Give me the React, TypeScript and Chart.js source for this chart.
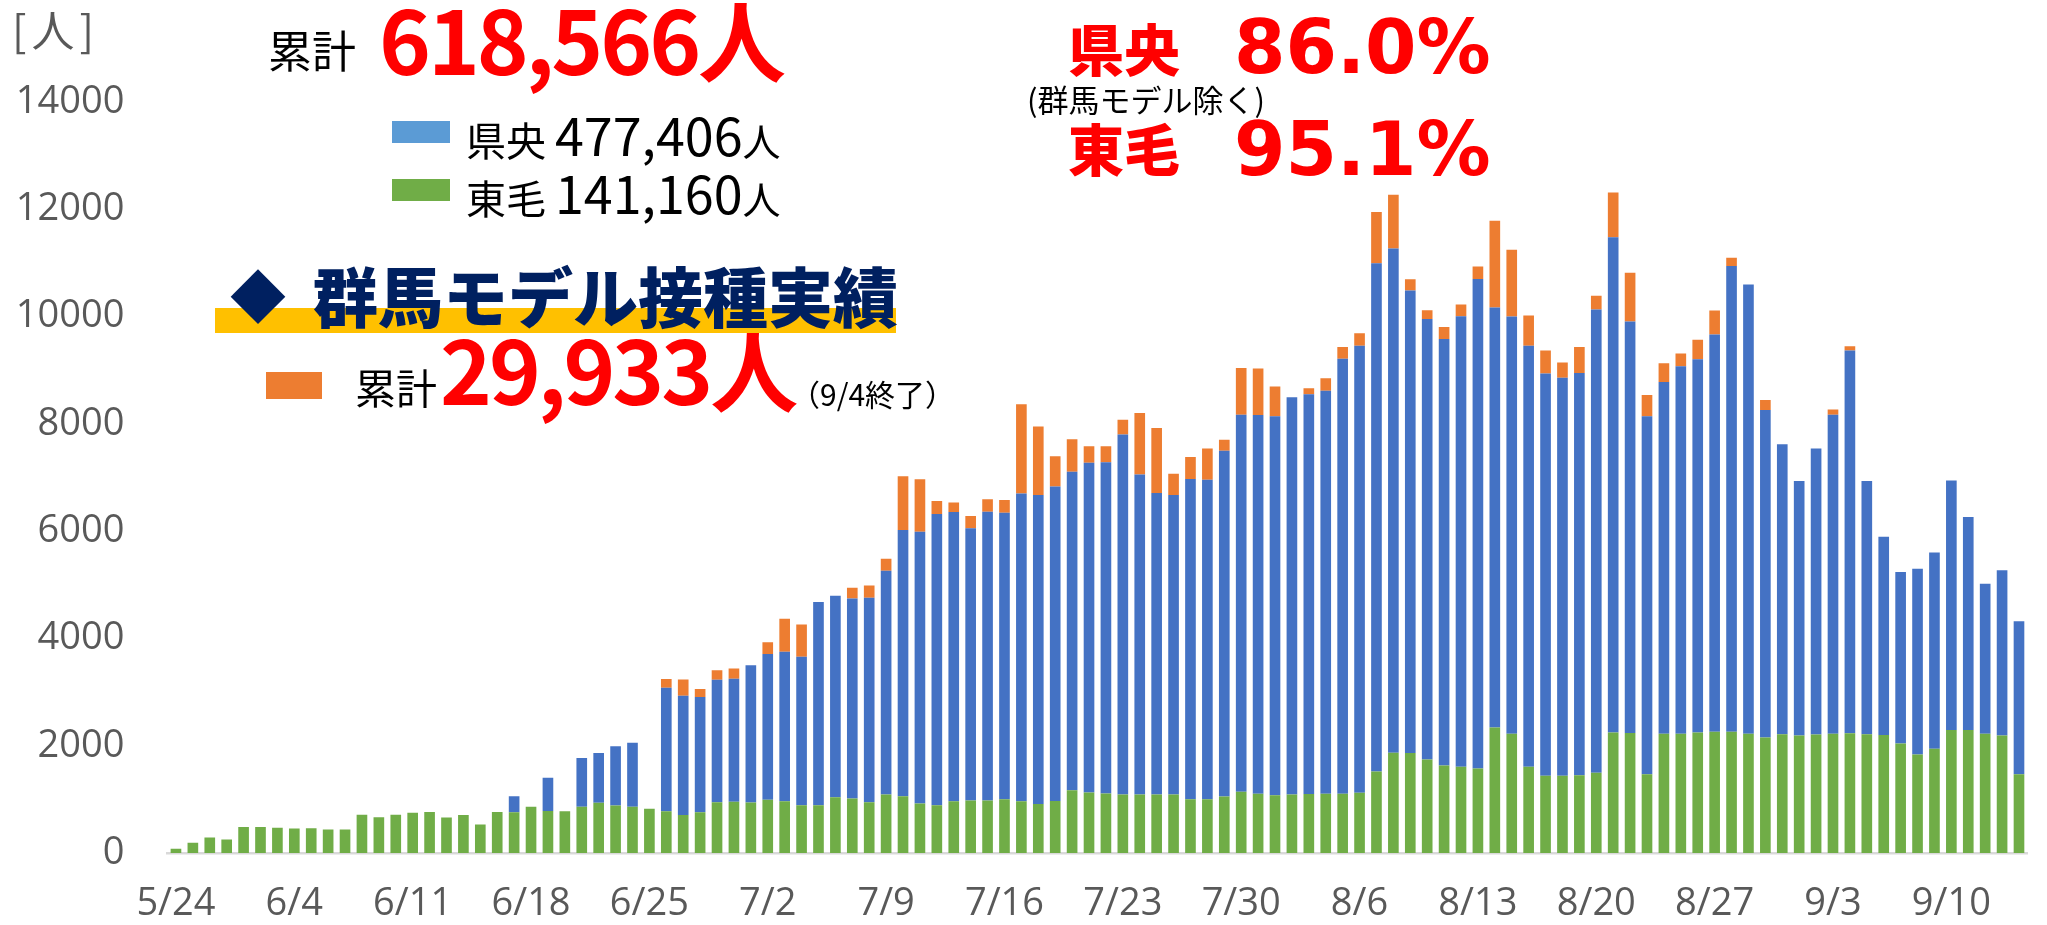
import React, { useEffect, useRef } from "react";
import { Chart, registerables } from "chart.js";

Chart.register(...registerables);

// Category labels (one per bar)
const dates: string[] = [
  "5/24", "5/29", "5/30", "5/31",
  "6/1", "6/2", "6/3", "6/4", "6/5", "6/6", "6/7", "6/8", "6/9", "6/10",
  "6/11", "6/12", "6/13", "6/14", "6/15", "6/16", "6/17", "6/18", "6/19", "6/20",
  "6/21", "6/22", "6/23", "6/24", "6/25", "6/26", "6/27", "6/28", "6/29", "6/30",
  "7/1", "7/2", "7/3", "7/4", "7/5", "7/6", "7/7", "7/8", "7/9", "7/10",
  "7/11", "7/12", "7/13", "7/14", "7/15", "7/16", "7/17", "7/18", "7/19", "7/20",
  "7/21", "7/22", "7/23", "7/24", "7/25", "7/26", "7/27", "7/28", "7/29", "7/30", "7/31",
  "8/1", "8/2", "8/3", "8/4", "8/5", "8/6", "8/7", "8/8", "8/9", "8/10",
  "8/11", "8/12", "8/13", "8/14", "8/15", "8/16", "8/17", "8/18", "8/19", "8/20",
  "8/21", "8/22", "8/23", "8/24", "8/25", "8/26", "8/27", "8/28", "8/29", "8/30", "8/31",
  "9/1", "9/2", "9/3", "9/4", "9/5", "9/6", "9/7", "9/8", "9/9", "9/10",
  "9/11", "9/12", "9/13", "9/14",
];

// 東毛 (green, bottom of stack)
const toumou: number[] = [
  80, 190, 290, 250, 485, 485, 470, 455, 460, 440,
  440, 715, 665, 715, 750, 765, 660, 710, 530, 765,
  760, 860, 785, 780, 860, 935, 885, 860, 825, 780,
  710, 760, 945, 955, 940, 995, 965, 890, 890, 1040,
  1015, 945, 1090, 1060, 925, 890, 965, 980, 980, 1000,
  965, 915, 970, 1170, 1130, 1110, 1090, 1090, 1090, 1090,
  1000, 1000, 1055, 1140, 1105, 1075, 1090, 1100, 1105, 1105,
  1125, 1520, 1870, 1865, 1745, 1630, 1610, 1575, 2340, 2225,
  1610, 1440, 1440, 1450, 1495, 2245, 2235, 1470, 2225, 2225,
  2245, 2262, 2262, 2225, 2155, 2215, 2190, 2210, 2225, 2232,
  2212, 2200, 2040, 1835, 1945, 2295, 2295, 2225, 2190, 1468,
];

// 県央 (blue, middle)
const kenou: number[] = [
  0, 0, 0, 0, 0, 0, 0, 0, 0, 0,
  0, 0, 0, 0, 0, 0, 0, 0, 0, 0,
  300, 0, 620, 0, 910, 930, 1105, 1195, 0, 2300,
  2220, 2150, 2285, 2295, 2560, 2715, 2785, 2770, 3790, 3755,
  3730, 3815, 4170, 4960, 5065, 5430, 5390, 5075, 5380, 5345,
  5735, 5760, 5860, 5935, 6145, 6175, 6710, 5965, 5620, 5585,
  5970, 5960, 6445, 7030, 7060, 7065, 7405, 7450, 7510, 8110,
  8330, 9475, 9400, 8620, 8210, 7950, 8395, 9125, 7830, 7775,
  7845, 7500, 7420, 7500, 8635, 9235, 7675, 6670, 6555, 6850,
  6960, 7405, 8680, 8375, 6105, 5405, 4745, 5330, 5945, 7135,
  4725, 3695, 3200, 3465, 3655, 4650, 3970, 2795, 3080, 2850,
];

// 群馬モデル (orange, top)
const gunmaModel: number[] = [
  0, 0, 0, 0, 0, 0, 0, 0, 0, 0,
  0, 0, 0, 0, 0, 0, 0, 0, 0, 0,
  0, 0, 0, 0, 0, 0, 0, 0, 0, 165,
  305, 145, 179, 190, 0, 217, 615, 600, 0, 0,
  202, 226, 226, 1002, 978, 242, 178, 226, 235, 235,
  1665, 1277, 566, 606, 307, 299, 275, 1148, 1212, 396,
  412, 582, 202, 873, 865, 557, 0, 113, 235, 218,
  235, 954, 1002, 210, 165, 227, 218, 234, 1617, 1244,
  566, 428, 283, 485, 259, 832, 905, 396, 348, 235,
  363, 445, 154, 0, 186, 0, 0, 0, 97, 81,
  0, 0, 0, 0, 0, 0, 0, 0, 0, 0,
];

const yMax = 14000;
const yStep = 2000;
const xLabelEvery = 7;

const W = 2047;
const H = 925;
const CJK = '"Noto Sans CJK JP", "Noto Sans", sans-serif';
const TICK_FONT = '"Open Sans", "Noto Sans", sans-serif';

type TProps = {
  x: number;
  cy: number;
  size: number;
  k?: number;
  color?: string;
  weight?: number | string;
  family?: string;
  children: React.ReactNode;
  spacing?: number;
};

function T({ x, cy, size, k = 0.56, color = "#000", weight = 400, family = CJK, children, spacing = 0 }: TProps) {
  return (
    <div
      style={{
        position: "absolute",
        left: x,
        top: cy - k * size,
        fontSize: size,
        lineHeight: 1,
        color,
        fontWeight: weight as any,
        fontFamily: family,
        whiteSpace: "nowrap",
        letterSpacing: spacing,
      }}
    >
      {children}
    </div>
  );
}

function Box({ x, y, w, h, color }: { x: number; y: number; w: number; h: number; color: string }) {
  return <div style={{ position: "absolute", left: x, top: y, width: w, height: h, background: color }} />;
}

export default function App() {
  const ref = useRef<HTMLCanvasElement | null>(null);

  useEffect(() => {
    const canvas = ref.current;
    if (!canvas) return;
    const chart = new Chart(canvas, {
      type: "bar",
      data: {
        labels: dates,
        datasets: [
          { label: "東毛", data: toumou, backgroundColor: "#70AD47", stack: "s" },
          { label: "県央", data: kenou, backgroundColor: "#4472C4", stack: "s" },
          { label: "群馬モデル", data: gunmaModel, backgroundColor: "#ED7D31", stack: "s" },
        ],
      },
      options: {
        responsive: false,
        animation: false,
        devicePixelRatio: 1,
        layout: { padding: { top: 102, right: 2, left: 0, bottom: 0 } },
        plugins: { legend: { display: false }, tooltip: { enabled: false }, title: { display: false } },
        datasets: { bar: { categoryPercentage: 1, barPercentage: 0.63 } },
        scales: {
          x: {
            stacked: true,
            grid: { display: false, drawTicks: false },
            border: { display: true, color: "#D9D9D9", width: 2.5 },
            ticks: {
              autoSkip: false,
              maxRotation: 0,
              minRotation: 0,
              padding: 28,
              color: "#595959",
              font: { family: TICK_FONT, size: 38 },
              callback: (_v: any, i: number) => (i % xLabelEvery === 0 ? dates[i] : ""),
            },
            afterFit: (s: any) => {
              s.height = 72;
            },
          },
          y: {
            stacked: true,
            min: 0,
            max: yMax,
            grid: { display: false, drawTicks: false },
            border: { display: false },
            ticks: {
              stepSize: yStep,
              padding: 43,
              color: "#595959",
              font: { family: TICK_FONT, size: 38 },
              callback: (v: any) => String(v),
            },
            afterFit: (s: any) => {
              s.width = 167.5;
            },
          },
        },
      },
    });
    return () => chart.destroy();
  }, []);

  return (
    <div style={{ position: "fixed", left: 0, top: 0, width: W, height: H, background: "#fff", overflow: "hidden" }}>
      <canvas ref={ref} width={W} height={H} style={{ position: "absolute", left: 0, top: 0, width: W, height: H, display: "block" }} />

      <T x={12} cy={31} size={43} color="#595959" spacing={5}>[人]</T>

      <T x={268} cy={52} size={44}>累計</T>
      <T x={379} cy={46} size={88} k={0.6} color="#FF0000" weight={700} spacing={-3}>618,566人</T>

      <Box x={392} y={121} w={58} h={22} color="#5B9BD5" />
      <div style={{ position: "absolute", left: 466, top: 108, whiteSpace: "nowrap", fontFamily: CJK, lineHeight: 1 }}>
        <span style={{ fontSize: 40 }}>県央 </span>
        <span style={{ fontSize: 52 }}>477,406</span>
        <span style={{ fontSize: 38 }}>人</span>
      </div>
      <Box x={392} y={179} w={58} h={22} color="#70AD47" />
      <div style={{ position: "absolute", left: 466, top: 166, whiteSpace: "nowrap", fontFamily: CJK, lineHeight: 1 }}>
        <span style={{ fontSize: 40 }}>東毛 </span>
        <span style={{ fontSize: 52 }}>141,160</span>
        <span style={{ fontSize: 38 }}>人</span>
      </div>

      <Box x={215} y={308} w={681} h={25} color="#FFC000" />
      <T x={230} cy={297} size={56} color="#002060">◆</T>
      <T x={313} cy={298} size={65} color="#002060" weight={900}>群馬モデル接種実績</T>

      <Box x={266} y={372} w={56} h={27} color="#ED7D31" />
      <T x={355} cy={389} size={41}>累計</T>
      <T x={440} cy={376} size={88} k={0.6} color="#FF0000" weight={700} spacing={-3}>29,933人</T>
      <T x={790} cy={395} size={30}>（9/4終了）</T>

      <T x={1068} cy={50} size={56} color="#FF0000" weight={900}>県央</T>
      <T x={1234} cy={46} size={74} k={0.48} color="#FF0000" weight={700} family='"DejaVu Sans", sans-serif'>86.0%</T>
      <T x={1027} cy={100} size={31}>(群馬モデル除く)</T>
      <T x={1068} cy={150} size={56} color="#FF0000" weight={900}>東毛</T>
      <T x={1234} cy={148} size={74} k={0.48} color="#FF0000" weight={700} family='"DejaVu Sans", sans-serif'>95.1%</T>
    </div>
  );
}
